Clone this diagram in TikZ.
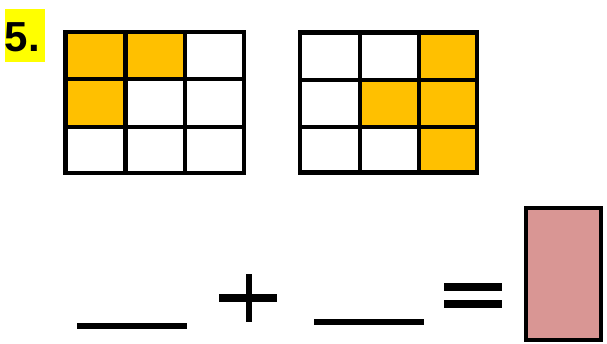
\documentclass[tikz,border=0pt]{standalone}
\usepackage{fontspec}
\setmainfont{Liberation Sans}
\definecolor{amber}{HTML}{FFC000}
\definecolor{rose}{HTML}{D99694}
\definecolor{hilite}{HTML}{FFFF00}
\tikzset{
  gridline/.style={line width=4.5pt, line cap=rect},
  shaded/.style={fill=amber},
  sign/.style={line width=8pt},
  blank/.style={line width=6pt},
}
\begin{document}
\begin{tikzpicture}[x=1pt,y=-1pt]
\useasboundingbox (0,0) rectangle (607,343);
% label
\fill[hilite] (5,9) rectangle (45,62);
\node[anchor=base west, inner sep=0pt, font=\bfseries\fontsize{42}{42}\selectfont] (lbl) at (4.5,51) {5.};
% grid 1
\fill[shaded] (65.7,32) rectangle (185,79);
\fill[shaded] (65.7,79) rectangle (125.7,127);
\draw[gridline] (65.7,32) rectangle (244,173);
\draw[gridline] (125.7,32) -- (125.7,173);
\draw[gridline] (185,32) -- (185,173);
\draw[gridline] (65.7,79) -- (244,79);
\draw[gridline] (65.7,127) -- (244,127);
% grid 2
\fill[shaded] (419,32.3) rectangle (477,172.7);
\fill[shaded] (360,80) rectangle (419,127);
\draw[gridline] (300,32.3) rectangle (477,172.7);
\draw[gridline] (360,32.3) -- (360,172.7);
\draw[gridline] (419,32.3) -- (419,172.7);
\draw[gridline] (300,80) -- (477,80);
\draw[gridline] (300,127) -- (477,127);
% equation
\draw[blank] (77,326) -- (187,326);
\draw[sign] (219,298) -- (277,298);
\draw[line width=6pt] (249,274) -- (249,322);
\draw[blank] (314,322) -- (424,322);
\draw[sign] (444,287) -- (502,287);
\draw[sign] (444,304) -- (502,304);
\node[draw, line width=4pt, fill=rose, minimum width=75pt, minimum height=132pt, inner sep=0pt] (ans) at (563.5,274) {};
\end{tikzpicture}
\end{document}
